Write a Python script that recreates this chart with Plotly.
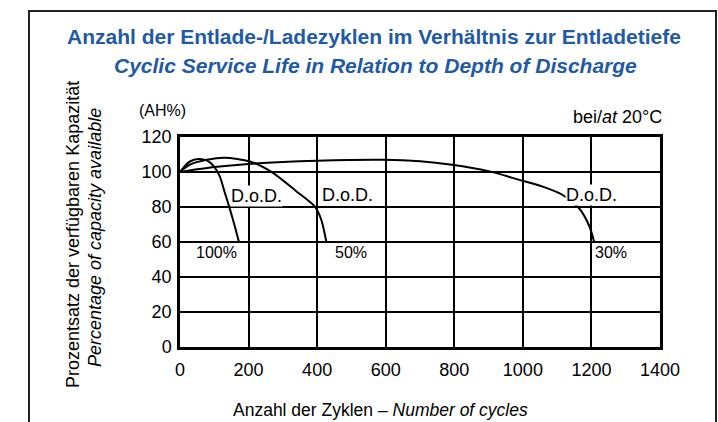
import plotly.graph_objects as go

# ---- data ----
dod100_x = [0, 15, 29, 53, 78, 97, 116, 131, 146, 160, 172]
dod100_y = [100, 103.6, 106, 107.4, 106.6, 103.6, 97.5, 88, 78.5, 68.9, 60]

dod50_x = [0, 29, 78, 131, 204, 272, 340, 393, 412, 427]
dod50_y = [100, 104.2, 107, 108.2, 106, 99.4, 88.9, 80.3, 72.7, 60]

dod30_x = [0, 100, 200, 400, 591, 700, 793, 900, 990, 1060, 1115, 1165, 1194, 1208]
dod30_y = [100, 102.8, 104.6, 106.4, 107, 106.2, 104.2, 100.5, 95.5, 91.5, 87, 79, 69, 60]

x_ticks = [0, 200, 400, 600, 800, 1000, 1200, 1400]
y_ticks = [0, 20, 40, 60, 80, 100, 120]

FONT = "Liberation Sans"
BLUE = "#1f5aa6"

W, H = 718, 422
L, R, T, B = 180, 660, 137, 347


def px(xp):
    return (xp - L) / (R - L)


def py(yp):
    return (B - yp) / (B - T)


fig = go.Figure()
for xs, ys in [(dod100_x, dod100_y), (dod50_x, dod50_y), (dod30_x, dod30_y)]:
    fig.add_trace(go.Scatter(x=xs, y=ys, mode="lines",
                             line=dict(color="black", width=2, shape="spline", smoothing=0.7),
                             hoverinfo="skip", showlegend=False))

ann = []


def paper_text(text, xp, yp, size, color="black", xanchor="center", angle=0):
    ann.append(dict(text=text, x=px(xp), y=py(yp), xref="paper", yref="paper",
                    xanchor=xanchor, yanchor="middle", textangle=angle, showarrow=False,
                    font=dict(family=FONT, size=size, color=color)))


paper_text("<b>Anzahl der Entlade-/Ladezyklen im Verhältnis zur Entladetiefe</b>", 374, 37, 21, BLUE)
paper_text("<b><i>Cyclic Service Life in Relation to Depth of Discharge</i></b>", 375, 65, 21, BLUE)
paper_text("(AH%)", 162, 110, 16)
paper_text("bei/<i>at</i> 20°C", 664, 117, 18, xanchor="right")
paper_text("Prozentsatz der verfügbaren Kapazität", 73, 235, 18, angle=-90)
paper_text("<i>Percentage of capacity available</i>", 95, 238, 18, angle=-90)
paper_text("Anzahl der Zyklen – <i>Number of cycles</i>", 380, 410, 17.5)

lab_font = dict(family=FONT, size=18, color="black")
pct_font = dict(family=FONT, size=16, color="black")
for xv, yv in [(146, 86.5), (412, 87), (1124, 87)]:
    ann.append(dict(text="D.o.D.", x=xv, y=yv, xref="x", yref="y", xanchor="left",
                    yanchor="middle", showarrow=False, bgcolor="white", borderpad=0,
                    font=lab_font))
ann.append(dict(text="100%", x=107, y=54, xref="x", yref="y", xanchor="center",
                yanchor="middle", showarrow=False, font=pct_font))
ann.append(dict(text="50%", x=500, y=54, xref="x", yref="y", xanchor="center",
                yanchor="middle", showarrow=False, font=pct_font))
ann.append(dict(text="30%", x=1205, y=54, xref="x", yref="y", xanchor="left",
                yanchor="middle", showarrow=False, font=pct_font))

fig.update_layout(
    width=W, height=H,
    margin=dict(l=L, r=W - R, t=T, b=H - B),
    paper_bgcolor="white", plot_bgcolor="white",
    annotations=ann,
    showlegend=False,
    shapes=[dict(type="rect", xref="paper", yref="paper",
                 x0=px(29), x1=px(716), y0=py(440), y1=py(11),
                 line=dict(color="#222222", width=2), layer="below")],
    xaxis=dict(range=[0, 1400], tickvals=x_ticks, ticktext=[str(v) for v in x_ticks],
               showgrid=True, gridcolor="black", gridwidth=2, zeroline=False,
               showline=True, linecolor="black", linewidth=2.5, mirror=True,
               ticks="", ticklabelstandoff=5,
               tickfont=dict(family=FONT, size=18, color="black")),
    yaxis=dict(range=[0, 120], tickvals=y_ticks, ticktext=[str(v) for v in y_ticks],
               showgrid=True, gridcolor="black", gridwidth=2, zeroline=False,
               showline=True, linecolor="black", linewidth=2.5, mirror=True,
               ticks="", ticklabelstandoff=2,
               tickfont=dict(family=FONT, size=18, color="black")),
)

fig.write_html("out.html", config={"displayModeBar": False},
               post_script="document.body.style.margin='0';document.body.style.overflow='hidden';")
